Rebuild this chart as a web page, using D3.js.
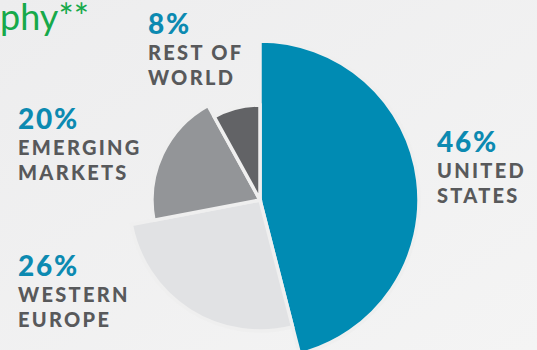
<!DOCTYPE html>
<html>
<head>
<meta charset="utf-8">
<script src="https://cdn.jsdelivr.net/npm/d3@7"></script>
<style>
html,body{margin:0;padding:0;overflow:hidden;}
body{width:537px;height:350px;}
</style>
</head>
<body>
<svg id="chart" width="537" height="350"></svg>
<script>
// ---- data ----
const categories = ["UNITED STATES", "WESTERN EUROPE", "EMERGING MARKETS", "REST OF WORLD"];
const values = [46, 26, 20, 8];
const labelLines = [["UNITED", "STATES"], ["WESTERN", "EUROPE"], ["EMERGING", "MARKETS"], ["REST OF", "WORLD"]];
const titleText = "phy**";

// ---- styles ----
const colors = ["#008bb3", "#e1e2e4", "#939598", "#626366"];
const sliceRadii = [159, 131, 108, 95];
const labelPos = [[437, 152], [18, 276], [18, 129], [148, 34]];

const W = 537, H = 350;
const svg = d3.select("#chart");

const defs = svg.append("defs");
const grad = defs.append("linearGradient").attr("id", "bg").attr("x1", "0").attr("y1", "0").attr("x2", "1").attr("y2", "1");
grad.append("stop").attr("offset", "0").attr("stop-color", "#ededee");
grad.append("stop").attr("offset", "1").attr("stop-color", "#f4f4f4");
svg.append("rect").attr("width", W).attr("height", H).attr("fill", "url(#bg)");

// title fragment
svg.append("text")
  .attr("x", 89).attr("y", 30)
  .attr("text-anchor", "end")
  .attr("font-family", "Lato, 'Open Sans', sans-serif")
  .attr("font-weight", 400)
  .attr("font-size", 36)
  .attr("fill", "#16a94a")
  .text(titleText);

const data = categories.map((c, i) => ({ cat: c, value: values[i], i }));
const pie = d3.pie().sort(null).value(d => d.value).startAngle(0).endAngle(2 * Math.PI);
const rScale = d3.scaleOrdinal().domain(categories).range(sliceRadii);
const color = d3.scaleOrdinal().domain(categories).range(colors);

const g = svg.append("g").attr("transform", "translate(260,200)");
g.selectAll("path")
  .data(pie(data))
  .join("path")
  .attr("d", d => d3.arc().innerRadius(0).outerRadius(rScale(d.data.cat))(d))
  .attr("fill", d => color(d.data.cat))
  .attr("stroke", "#efefef")
  .attr("stroke-width", 3.5)
  .attr("stroke-linejoin", "miter");

// labels
const lg = svg.append("g");
data.forEach((d, i) => {
  const [x, y] = labelPos[i];
  lg.append("text")
    .attr("x", x).attr("y", y)
    .attr("font-family", "Lato, 'Open Sans', sans-serif")
    .attr("font-weight", 900)
    .attr("font-size", 28)
    .attr("letter-spacing", 1.8)
    .attr("fill", "#0c8ab1")
    .text(d3.format("d")(d.value) + "%");
  labelLines[i].forEach((line, k) => {
    lg.append("text")
      .attr("x", x).attr("y", y + 26 + k * 24.5)
      .attr("font-family", "Lato, 'Open Sans', sans-serif")
      .attr("font-weight", 900)
      .attr("font-size", 20)
      .attr("letter-spacing", 2.3)
      .attr("fill", "#58595b")
      .text(line);
  });
});
</script>
</body>
</html>
